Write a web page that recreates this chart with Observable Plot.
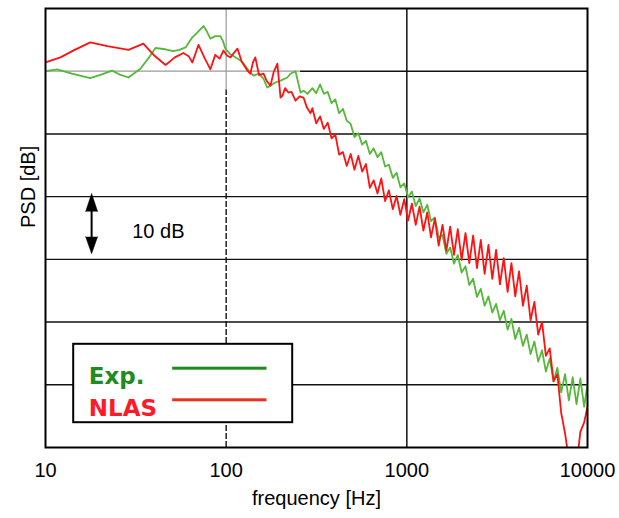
<!DOCTYPE html>
<html><head><meta charset="utf-8">
<script src="https://cdn.jsdelivr.net/npm/d3@7"></script>
<script src="https://cdn.jsdelivr.net/npm/@observablehq/plot@0.6"></script>
<style>body{margin:0;background:#fff;} #chart svg{display:block;}</style>
</head><body><div id="chart"></div>
<script>
// Tick values
const xTicks = [10, 100, 1000, 10000];
const gridDb = [-10, -20, -30, -40, -50, -60];

// Exp. (low-frequency part)
const expLoFreq = [10, 11.6, 14, 17.7, 20.5, 23.4, 26, 28.8, 33.5, 37, 40.6, 46, 51, 55, 59.6, 65, 69.4, 74.9, 78, 81.8, 87, 93, 96, 99, 105.6, 113, 120, 125, 131, 136, 142, 151, 161, 169, 176, 187, 200, 218, 227, 242, 258, 268, 282];
const expLoDb = [-10.0, -9.7, -10.4, -11.1, -10.5, -9.9, -10.6, -11.0, -9.6, -8.0, -6.3, -6.5, -6.8, -6.6, -6.2, -4.6, -3.8, -2.8, -3.6, -4.8, -4.4, -4.4, -5.2, -6.4, -7.3, -7.8, -8.3, -8.8, -9.6, -10.2, -10.7, -10.4, -11.2, -12.6, -12.3, -11.8, -11.5, -11.0, -10.4, -10.0, -13.4, -13.1, -13.6];

// NLAS (low-frequency part)
const nlasLoFreq = [10, 12.1, 14.5, 17.7, 22, 28.8, 34.8, 40, 46.2, 52, 58, 62, 65, 70.3, 76, 81.8, 87, 92, 96.6, 101, 105.6, 111, 115.5, 122, 131, 136, 141, 145, 152, 161, 168, 176, 183, 192, 200, 205, 212, 221, 230, 242, 255, 268, 280, 293];
const nlasLoDb = [-8.6, -7.8, -6.6, -5.4, -6.0, -6.6, -5.6, -7.5, -9.0, -7.8, -7.1, -7.6, -8.6, -5.8, -7.9, -9.7, -7.4, -8.0, -6.7, -7.5, -7.8, -7.0, -6.4, -8.5, -9.9, -10.4, -8.5, -7.8, -10.6, -10.4, -11.6, -12.3, -10.2, -8.8, -14.2, -13.9, -12.7, -13.4, -13.3, -14.7, -14.0, -14.2, -15.8, -16.7];

// High-frequency (noisy) part, shared frequencies
const hiFreq = [300, 315, 331, 347, 365, 383, 402, 422, 443, 465, 489, 513, 539, 566, 594, 624, 655, 688, 722, 758, 796, 836, 878, 921, 968, 1016, 1067, 1120, 1176, 1235, 1297, 1361, 1429, 1501, 1576, 1655, 1737, 1824, 1915, 2011, 2112, 2217, 2328, 2445, 2567, 2695, 2830, 2972, 3120, 3276, 3440, 3612, 3793, 3982, 4181, 4390, 4610, 4840, 5082, 5337, 5603, 5884, 6178, 6487, 6811, 7152, 7509, 7885, 8279, 8693, 9127, 9584, 10000];
const expHiDb = [-12.7, -13.5, -12.1, -13.6, -13.3, -15.1, -14.5, -16.7, -16.0, -17.9,
  -18.4, -20.5, -19.9, -21.7, -21.1, -23.2, -22.3, -23.7, -22.9, -25.2,
  -24.9, -27.0, -26.2, -28.5, -27.9, -30.1, -29.2, -31.5, -30.3, -32.5,
  -31.3, -33.9, -33.3, -36.5, -36.1, -39.1, -38.1, -40.7, -39.3, -42.1,
  -41.1, -44.1, -43.1, -46.0, -44.7, -47.4, -45.9, -48.5, -47.1, -49.7,
  -48.2, -51.2, -49.5, -52.7, -50.9, -53.8, -52.0, -55.1, -53.1, -56.3,
  -54.5, -57.9, -55.8, -59.5, -57.3, -61.2, -58.3, -62.5, -58.8, -63.1,
  -59.0, -63.5, -59.9];
const nlasHiDb = [-15.9, -18.3, -17.2, -19.2, -18.2, -20.7, -20.1, -23.3, -22.9, -25.1,
  -23.2, -25.7, -23.5, -26.0, -24.8, -28.6, -27.4, -29.5, -27.1, -30.7,
  -29.0, -32.0, -29.9, -32.9, -30.4, -33.8, -31.1, -34.5, -31.6, -35.4,
  -32.5, -36.5, -33.5, -37.8, -34.5, -38.6, -34.8, -39.3, -35.2, -40.1,
  -35.8, -40.6, -36.2, -41.4, -36.9, -42.3, -37.7, -43.1, -38.5, -44.0,
  -39.8, -45.2, -40.6, -45.9, -41.9, -47.4, -44.2, -49.7, -46.8, -52.0,
  -50.0, -55.4, -54.2, -59.4, -58.3, -64.5, -67.7, -72.0, -75.0, -73.0,
  -67.5, -66.0, -63.5];

const expData = expLoFreq.map((f, i) => ({f, db: expLoDb[i]}))
  .concat(hiFreq.map((f, i) => ({f, db: expHiDb[i]})));
const nlasData = nlasLoFreq.map((f, i) => ({f, db: nlasLoDb[i]}))
  .concat(hiFreq.map((f, i) => ({f, db: nlasHiDb[i]})));

const GREEN_LINE = "#55b83a", RED_LINE = "#ff1212";
const GREEN_LEG = "#1e8c1e", RED_LEG = "#e8321e", RED_TXT = "#ff1a2a";
const GRID = "#111";

const chart = Plot.plot({
  width: 619, height: 518,
  marginLeft: 45, marginRight: 32, marginTop: 8, marginBottom: 71,
  style: {fontFamily: "'Liberation Sans', Arial, sans-serif", fontSize: "20px", color: "#000", background: "#fff"},
  x: {type: "log", domain: [10, 10000], label: null},
  y: {domain: [-70, 0], axis: null},
  marks: [
    // gridlines
    Plot.ruleY([-10], {x1: 10, x2: 258, stroke: "#9a9a9a", strokeWidth: 1.2}),
    Plot.ruleY([-10], {x1: 258, x2: 10000, stroke: GRID, strokeWidth: 1.4}),
    Plot.ruleY(gridDb.filter(d => d < -10), {stroke: GRID, strokeWidth: 1.4}),
    Plot.ruleX([100], {y1: -13, y2: 0, stroke: "#9a9a9a", strokeWidth: 1.2}),
    Plot.ruleX([100], {y1: -70, y2: -13, stroke: GRID, strokeWidth: 1.4, strokeDasharray: "6,2"}),
    Plot.ruleX([1000], {stroke: GRID, strokeWidth: 1.5}),
    // curves
    Plot.line(expData, {x: "f", y: "db", stroke: GREEN_LINE, strokeWidth: 1.8, clip: true}),
    Plot.line(nlasData, {x: "f", y: "db", stroke: RED_LINE, strokeWidth: 1.8, clip: true}),
    // frame
    Plot.frame({stroke: "#000", strokeWidth: 2}),
    // axis
    Plot.axisX({ticks: xTicks, tickSize: 0, tickPadding: 15, tickFormat: d => String(d), fontSize: 20, label: null}),
    Plot.text(["frequency [Hz]"], {frameAnchor: "bottom", dy: 57.6, text: d => d, fontSize: 20}),
    Plot.text(["PSD [dB]"], {frameAnchor: "left", dx: -17.4, rotate: -90, text: d => d, fontSize: 20}),
    // 10 dB annotation
    Plot.ruleX([18], {y1: -30.5, y2: -38.2, stroke: "#000", strokeWidth: 2}),
    Plot.vector([18], {x: d => d, y: -29.5, length: 18, rotate: 0, anchor: "end", shape: "spike", r: 6, fill: "#000", stroke: "#000", strokeWidth: 0.5}),
    Plot.vector([18], {x: d => d, y: -39.1, length: 17, rotate: 180, anchor: "end", shape: "spike", r: 6, fill: "#000", stroke: "#000", strokeWidth: 0.5}),
    Plot.text(["10 dB"], {x: 30.2, y: -35.5, text: d => d, textAnchor: "start", fontSize: 20}),
    // legend
    Plot.frame({insetLeft: 27.7, insetRight: 295.3, insetTop: 335.3, insetBottom: 25.3, fill: "#fff", stroke: "#000", strokeWidth: 2}),
    Plot.frame({insetLeft: 126.7, insetRight: 321, insetTop: 358.2, insetBottom: 77.8, fill: GREEN_LEG, stroke: "none"}),
    Plot.frame({insetLeft: 126.7, insetRight: 321, insetTop: 389.8, insetBottom: 46.2, fill: RED_LEG, stroke: "none"}),
    Plot.text(["Exp."], {frameAnchor: "top-left", dx: 43.3, dy: 359.6, text: d => d, textAnchor: "start", fontSize: 23, fontWeight: "bold", fontFamily: "DejaVu Sans", fill: GREEN_LEG}),
    Plot.text(["NLAS"], {frameAnchor: "top-left", dx: 43.3, dy: 391.3, text: d => d, textAnchor: "start", fontSize: 23, fontWeight: "bold", fontFamily: "DejaVu Sans", fill: RED_TXT})
  ]
});
document.getElementById("chart").append(chart);
</script>
</body></html>
